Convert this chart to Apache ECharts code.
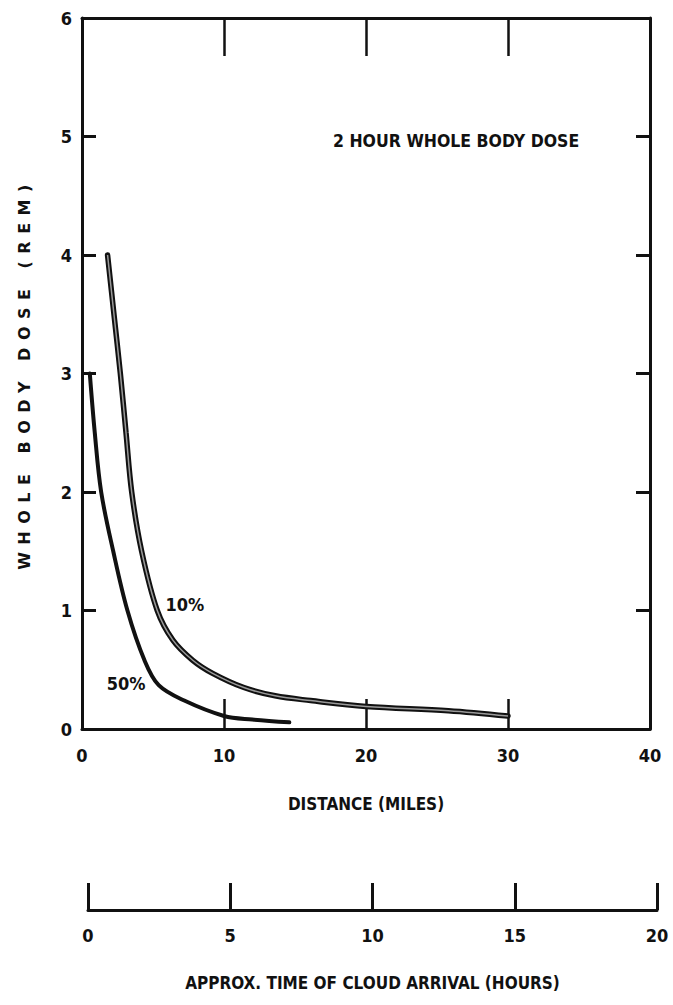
<!DOCTYPE html>
<html><head><meta charset="utf-8">
<script src="https://cdn.jsdelivr.net/npm/echarts@6/dist/echarts.min.js"></script>
<style>html,body{margin:0;padding:0;background:#fff}#c{width:673px;height:1005px}</style>
</head><body><div id="c"></div>
<script>
// ---- data ----
const distTicks = [0, 10, 20, 30, 40];      // miles
const timeTicks = [0, 5, 10, 15, 20];       // hours
const doseTicks = [0, 1, 2, 3, 4, 5, 6];    // rem
const curve10 = [[1.8,4.0],[2.25,3.5],[2.7,3.0],[3.1,2.5],[3.5,2.0],[4.2,1.5],[5.3,1.0],[6.4,0.75],[7.8,0.58],[9.2,0.47],[11.4,0.35],[13.6,0.28],[16.1,0.24],[20,0.19],[25.8,0.155],[30,0.11]];
const curve50 = [[0.55,3.0],[0.9,2.5],[1.35,2.0],[2.2,1.5],[3.2,1.0],[4.4,0.58],[5.4,0.37],[7.2,0.24],[10,0.11],[12,0.08],[14.6,0.056]];
const label10 = {text: '10%', at: [7.25, 1.05]};
const label50 = {text: '50%', at: [3.1, 0.38]};
const titleText = '2 HOUR WHOLE BODY DOSE';
const xName = 'DISTANCE (MILES)';
const yName = 'WHOLE BODY DOSE (REM)';
const timeName = 'APPROX. TIME OF CLOUD ARRIVAL (HOURS)';

const INK = '#111';
const NARROW = '"Liberation Sans Narrow","DejaVu Sans Condensed","Roboto Condensed",sans-serif';
const lbl = {color: INK, fontFamily: NARROW, fontWeight: 'bold', fontSize: 18};
const axLine = {onZero: false, lineStyle: {color: INK, width: 3}};

const chart = echarts.init(document.getElementById('c'), null, {renderer: 'svg'});
chart.setOption({
  animation: false,
  backgroundColor: '#fff',
  title: {text: titleText, left: 328, top: 127, textStyle: Object.assign({}, lbl, {fontSize: 17.5})},
  grid: [
    {left: 82, right: 23, top: 18, bottom: 276},
    {left: 88, right: 16, top: 870, height: 40}
  ],
  xAxis: [
    {gridIndex: 0, type: 'value', position: 'bottom', min: distTicks[0], max: distTicks[distTicks.length-1], interval: 10,
     axisLine: axLine, axisTick: {inside: true, length: 30, lineStyle: {color: INK, width: 2.5}},
     axisLabel: Object.assign({margin: 17}, lbl), splitLine: {show: false},
     name: xName, nameLocation: 'middle', nameGap: 66, nameTextStyle: Object.assign({}, lbl, {fontSize: 17})},
    {gridIndex: 0, type: 'value', position: 'top', min: distTicks[0], max: distTicks[distTicks.length-1], interval: 10,
     axisLine: axLine, axisTick: {inside: true, length: 38, lineStyle: {color: INK, width: 2.5}},
     axisLabel: {show: false}, splitLine: {show: false}},
    {gridIndex: 1, type: 'value', position: 'bottom', min: timeTicks[0], max: timeTicks[timeTicks.length-1], interval: 5,
     axisLine: axLine, axisTick: {inside: true, length: 27, lineStyle: {color: INK, width: 3}},
     axisLabel: Object.assign({margin: 16}, lbl), splitLine: {show: false},
     name: timeName, nameLocation: 'middle', nameGap: 64, nameTextStyle: Object.assign({}, lbl, {fontSize: 17})}
  ],
  yAxis: [
    {gridIndex: 0, type: 'value', position: 'left', min: doseTicks[0], max: doseTicks[doseTicks.length-1], interval: 1,
     axisLine: axLine, axisTick: {inside: true, length: 14, lineStyle: {color: INK, width: 3}},
     axisLabel: Object.assign({margin: 10}, lbl), splitLine: {show: false},
     name: yName, nameLocation: 'middle', nameGap: 50, nameRotate: 90,
     nameTextStyle: {color: INK, fontFamily: '"DejaVu Sans",sans-serif', fontWeight: 'bold', fontSize: 16}},
    {gridIndex: 0, type: 'value', position: 'right', min: doseTicks[0], max: doseTicks[doseTicks.length-1], interval: 1,
     axisLine: axLine, axisTick: {inside: true, length: 14, lineStyle: {color: INK, width: 3}},
     axisLabel: {show: false}, splitLine: {show: false}},
    {gridIndex: 1, type: 'value', show: false, min: 0, max: 1}
  ],
  series: [
    {type: 'line', xAxisIndex: 0, yAxisIndex: 0, data: curve10, smooth: 0.35, symbol: 'none',
     lineStyle: {color: INK, width: 5.5, cap: 'round'}},
    {type: 'line', xAxisIndex: 0, yAxisIndex: 0, data: curve10, smooth: 0.35, symbol: 'none',
     lineStyle: {color: '#9a9a9a', width: 1.5},
     markPoint: {symbol: 'circle', symbolSize: 0, silent: true,
       label: Object.assign({show: true, position: 'inside', formatter: label10.text}, lbl),
       data: [{coord: label10.at}]}},
    {type: 'line', xAxisIndex: 0, yAxisIndex: 0, data: curve50, smooth: 0.35, symbol: 'none',
     lineStyle: {color: INK, width: 4, cap: 'round'},
     markPoint: {symbol: 'circle', symbolSize: 0, silent: true,
       label: Object.assign({show: true, position: 'inside', formatter: label50.text}, lbl),
       data: [{coord: label50.at}]}}
  ]
});
function spaceName() {
  document.querySelectorAll('#c svg text').forEach(t => {
    if (t.textContent === yName) t.setAttribute('letter-spacing', '7.5');
  });
}
chart.on('finished', spaceName);
setTimeout(spaceName, 50);
</script>
</body></html>
